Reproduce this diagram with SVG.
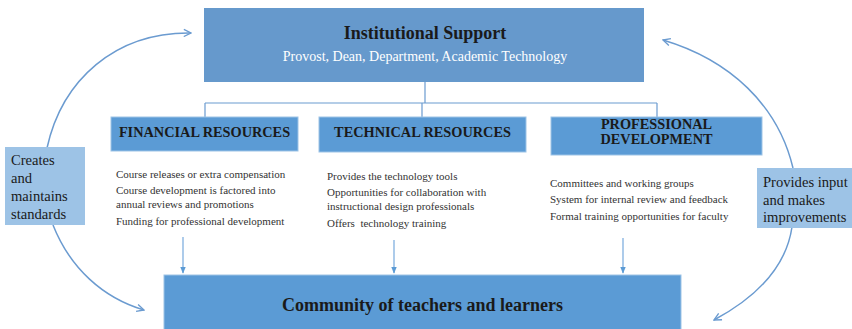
<svg xmlns="http://www.w3.org/2000/svg" width="852" height="329" viewBox="0 0 852 329">
<defs>
<style>
.serif{font-family:"Liberation Serif","Times New Roman",serif}
.top{fill:#6699cc}
.cat{fill:#5b9bd5;stroke:#9dc3e6;stroke-width:1}
.lbl{fill:#9dc3e6}
.h{font-weight:bold;fill:#1a1a1a}
.body{font-size:11px;fill:#333}
.side{font-size:14.6px;fill:#1a1a1a}
.conn{fill:none;stroke:#6b9bd0;stroke-width:1.2}
.curve{fill:none;stroke:#6b9bd0;stroke-width:1.5}
.down{fill:none;stroke:#8ab6e2;stroke-width:1.4}
</style>
<marker id="v" viewBox="0 0 10 10" refX="9" refY="5" markerWidth="9" markerHeight="9" orient="auto" markerUnits="userSpaceOnUse">
<path d="M1,1 L9,5 L1,9" fill="none" stroke="#6b9bd0" stroke-width="1.5"/>
</marker>
<marker id="t" viewBox="0 0 10 10" refX="9" refY="5" markerWidth="7" markerHeight="7" orient="auto" markerUnits="userSpaceOnUse">
<path d="M0,1 L10,5 L0,9 Z" fill="#5b9bd5"/>
</marker>
</defs>
<rect width="852" height="329" fill="#fff"/>

<g id="connectors">
<path class="conn" d="M425,82 V103 M205,103 H657 M205,103 V117 M422,103 V117 M657,103 V117"/>
<path class="down" d="M183,237 V273" marker-end="url(#t)"/>
<path class="down" d="M394,240 V273" marker-end="url(#t)"/>
<path class="down" d="M623,238 V273" marker-end="url(#t)"/>
<path class="curve" d="M47,148 C62,80 115,32 191,33" marker-end="url(#v)"/>
<path class="curve" d="M793,168 C778,105 730,60 663,40" marker-end="url(#v)"/>
<path class="curve" d="M53,225 C70,268 103,298 144,310" marker-end="url(#v)"/>
<path class="curve" d="M792,227 C786,268 755,298 714,320" marker-end="url(#v)"/>
</g>

<g id="institutional-support">
<rect class="top" x="204" y="8" width="440" height="74"/>
<text class="serif h" x="425" y="39" font-size="18" text-anchor="middle">Institutional Support</text>
<text class="serif" x="425" y="61" font-size="14" fill="#fff" text-anchor="middle">Provost, Dean, Department, Academic Technology</text>
</g>

<g id="financial">
<rect class="cat" x="111" y="117" width="187" height="34"/>
<text class="serif h" x="204.5" y="137" font-size="14.3" text-anchor="middle">FINANCIAL RESOURCES</text>
<text class="serif body" x="116" y="178">Course releases or extra compensation</text>
<text class="serif body" x="116" y="194">Course development is factored into</text>
<text class="serif body" x="116" y="208">annual reviews and promotions</text>
<text class="serif body" x="116" y="225">Funding for professional development</text>
</g>

<g id="technical">
<rect class="cat" x="319" y="117" width="207" height="35"/>
<text class="serif h" x="422.5" y="137" font-size="14.3" text-anchor="middle">TECHNICAL RESOURCES</text>
<text class="serif body" x="327" y="180">Provides the technology tools</text>
<text class="serif body" x="327" y="196">Opportunities for collaboration with</text>
<text class="serif body" x="327" y="210">instructional design professionals</text>
<text class="serif body" x="327" y="227" xml:space="preserve">Offers  technology training</text>
</g>

<g id="professional">
<rect class="cat" x="551" y="117" width="211" height="38"/>
<text class="serif h" x="656.5" y="129" font-size="14.3" text-anchor="middle">PROFESSIONAL</text>
<text class="serif h" x="656.5" y="144" font-size="14.3" text-anchor="middle">DEVELOPMENT</text>
<text class="serif body" x="550" y="187">Committees and working groups</text>
<text class="serif body" x="550" y="203">System for internal review and feedback</text>
<text class="serif body" x="550" y="220">Formal training opportunities for faculty</text>
</g>

<g id="creates-label">
<rect class="lbl" x="5" y="147" width="80" height="78"/>
<text class="serif side" x="11" y="165">Creates</text>
<text class="serif side" x="11" y="183">and</text>
<text class="serif side" x="11" y="201">maintains</text>
<text class="serif side" x="11" y="219">standards</text>
</g>

<g id="provides-label">
<rect class="lbl" x="757" y="168" width="95" height="60"/>
<text class="serif side" x="763" y="187">Provides input</text>
<text class="serif side" x="763" y="205">and makes</text>
<text class="serif side" x="763" y="222">improvements</text>
</g>

<g id="community">
<rect class="cat" x="164" y="275" width="517" height="60"/>
<text class="serif h" x="422.5" y="311" font-size="18" text-anchor="middle">Community of teachers and learners</text>
</g>
</svg>
